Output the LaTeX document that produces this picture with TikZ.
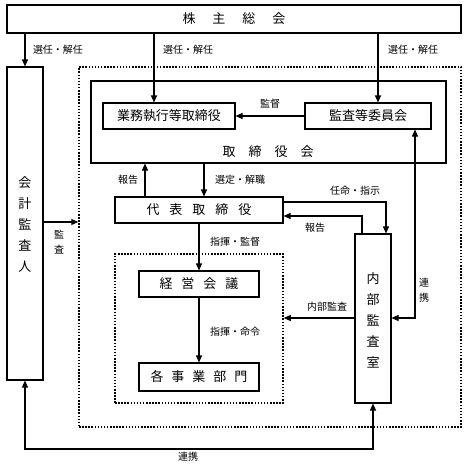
\documentclass[tikz,border=0pt]{standalone}
\usepackage{fontspec}
\setmainfont{Noto Sans CJK JP}
\usetikzlibrary{arrows.meta}
\tikzset{
  box/.style={draw, line width=1.1pt, inner sep=0pt, font=\fontsize{13}{15}\selectfont},
  dotbox/.style={draw, line width=1.5pt, dash pattern=on 1.5pt off 1.6pt, inner sep=0pt},
  arr/.style={line width=1.1pt, -{Triangle[length=7pt,width=6pt]}},
  darr/.style={line width=1.1pt, {Triangle[length=7pt,width=6pt]}-{Triangle[length=7pt,width=6pt]}},
  lbl/.style={font=\fontsize{10}{15}\selectfont, inner sep=0pt},
  vtext/.style={font=\fontsize{13}{21}\selectfont, align=center, inner sep=0pt},
}
\begin{document}
\begin{tikzpicture}[x=1pt,y=-1pt]
\useasboundingbox (0,0) rectangle (467,472);
% boxes
\node[box, minimum width=454pt, minimum height=28pt] (shm) at (234,19) {株\hspace{17pt}主\hspace{17pt}総\hspace{17pt}会};
\node[box, minimum width=36pt, minimum height=313pt] (kaikei) at (25,223.5) {};
\node[vtext] (kaikeit) at (25,225) {会\\計\\監\\査\\人};
\node[dotbox, minimum width=382pt, minimum height=360pt] (outer) at (270,247) {};
\node[box, minimum width=355pt, minimum height=82pt] (tor) at (268.5,122) {};
\node[font=\fontsize{13}{15}\selectfont, inner sep=0pt] (tort) at (268,152) {取\hspace{13pt}締\hspace{13pt}役\hspace{13pt}会};
\node[box, minimum width=132pt, minimum height=26pt] (gyomu) at (169,116) {業務執行等取締役};
\node[box, minimum width=126pt, minimum height=26pt] (kansa) at (368,116) {監査等委員会};
\node[box, minimum width=168pt, minimum height=26pt] (daihyo) at (199,210) {代\hspace{10pt}表\hspace{10pt}取\hspace{10pt}締\hspace{10pt}役};
\node[box, minimum width=36pt, minimum height=169pt] (naibu) at (373,318.5) {};
\node[vtext] (naibut) at (373,320) {内\\部\\監\\査\\室};
\node[dotbox, minimum width=168pt, minimum height=149pt] (inner) at (199,328.5) {};
\node[box, minimum width=120pt, minimum height=26pt] (keiei) at (199,284) {経\hspace{9pt}営\hspace{9pt}会\hspace{9pt}議};
\node[box, minimum width=120pt, minimum height=28pt] (kaku) at (199,377) {各\hspace{8pt}事\hspace{8pt}業\hspace{8pt}部\hspace{8pt}門};
% coordinates
\coordinate (xa) at (154,0);
\coordinate (xb) at (378,0);
\coordinate (r1) at (415,318);
\coordinate (xc) at (145,0);
\coordinate (xd) at (204,0);
\coordinate (p1) at (386,202);
\coordinate (p2) at (362,216);
\coordinate (y318) at (0,318);
\coordinate (y222) at (0,222);
\coordinate (y449) at (0,449);
% connectors
\draw[arr] (kaikei.north |- shm.south) -- (kaikei.north);
\draw[arr] (shm.south -| xa) -- (gyomu.north -| xa);
\draw[arr] (shm.south -| xb) -- (kansa.north -| xb);
\draw[arr] (kansa.west) -- (gyomu.east);
\draw[darr] (kansa.south -| r1) -- (r1) -- (naibu.east |- r1);
\draw[arr] (daihyo.north -| xc) -- (tor.south -| xc);
\draw[arr] (tor.south -| xd) -- (daihyo.north -| xd);
\draw[arr] (daihyo.east |- p1) -- (p1) -- (naibu.north -| p1);
\draw[arr] (naibu.north -| p2) -- (p2) -- (daihyo.east |- p2);
\draw[arr] (daihyo.south) -- (keiei.north);
\draw[arr] (naibu.west |- y318) -- (inner.east |- y318);
\draw[arr] (keiei.south) -- (kaku.north);
\draw[arr] (kaikei.east |- y222) -- (outer.west |- y222);
\draw[darr] (kaikei.south) -- (kaikei.south |- y449) -- (naibu.south |- y449) -- (naibu.south);
% labels
\node[lbl] (l1) at (58,50) {選任・解任};
\node[lbl] (l2) at (188,50) {選任・解任};
\node[lbl] (l3) at (413,50) {選任・解任};
\node[lbl] (l4) at (270,104) {監督};
\node[lbl] (l5) at (128,180) {報告};
\node[lbl] (l6) at (240,180) {選定・解職};
\node[lbl] (l7) at (355,191) {任命・指示};
\node[lbl] (l8) at (315,228) {報告};
\node[lbl] (l9) at (235,242) {指揮・監督};
\node[lbl] (l10) at (327,307) {内部監査};
\node[lbl] (l11) at (235,332) {指揮・命令};
\node[lbl, align=center] (l12) at (424,290) {連\\携};
\node[lbl, align=center] (l13) at (59,242) {監\\査};
\node[lbl] (l14) at (188,457) {連携};
\end{tikzpicture}
\end{document}
